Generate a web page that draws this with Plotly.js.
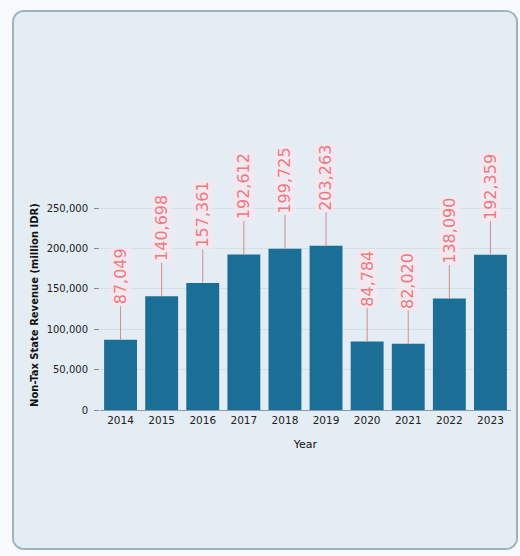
<!DOCTYPE html>
<html>
<head>
<meta charset="utf-8">
<script src="https://cdn.plot.ly/plotly-3.0.1.min.js"></script>
<style>
  html, body { margin: 0; padding: 0; background: #f7f9fc; }
  #box {
    position: absolute; left: 12px; top: 10px; width: 502px; height: 536px;
    border: 2px solid #9fb3bf; border-radius: 12px; background: #e4ecf4;
    overflow: hidden;
  }
  #chart { position: absolute; left: 0; top: 0; width: 502px; height: 536px; }
</style>
</head>
<body>
<div id="box"><div id="chart"></div></div>
<script>
const years = ["2014", "2015", "2016", "2017", "2018", "2019", "2020", "2021", "2022", "2023"];
const revenue = [87049, 140698, 157361, 192612, 199725, 203263, 84784, 82020, 138090, 192359];
const yTitle = "Non-Tax State Revenue (million IDR)";
const xTitle = "Year";

const fmt = v => v.toLocaleString("en-US");

const labelSize = 16;
const lineLen = 33;
// approximate rotated label length so the connector line has a constant length
const labelLen = s => s.replace(/,/g, "").length * labelSize * 0.636 + (s.includes(",") ? labelSize * 0.318 : 0);

// category axis: annotation x given as category index
const annotations = years.map((yr, i) => {
  const t = fmt(revenue[i]);
  return {
    x: i, y: revenue[i], xref: "x", yref: "y",
    text: t,
    textangle: -90,
    showarrow: true, arrowhead: 0, arrowwidth: 1, arrowcolor: "#d98a90",
    ax: 0, ay: -(lineLen + labelLen(t) / 2 + 2),
    font: { family: "DejaVu Sans", size: labelSize, color: "#f07880" },
    bgcolor: "rgba(250,232,236,0.55)"
  };
});

const trace = {
  type: "bar", x: years, y: revenue,
  marker: { color: "#1b6e96" },
  hoverinfo: "x+y"
};

const layout = {
  width: 502, height: 536,
  paper_bgcolor: "#e4ecf4", plot_bgcolor: "#e4ecf4",
  margin: { l: 86, r: 5, t: 188, b: 138 },
  bargap: 0.2,
  showlegend: false,
  font: { family: "DejaVu Sans", size: 10, color: "#222" },
  xaxis: {
    type: "category",
    range: [-0.5, years.length - 0.5],
    title: { text: xTitle, font: { size: 11, color: "#111" }, standoff: 15 },
    showline: true, linecolor: "#8a9aa6", linewidth: 1,
    ticks: "", tickfont: { size: 10.5, color: "#222" }
  },
  yaxis: {
    range: [0, 260000],
    title: { text: "<b>" + yTitle + "</b>", font: { size: 10, color: "#111" }, standoff: 6 },
    tickvals: [0, 50000, 100000, 150000, 200000, 250000],
    tickformat: ",d",
    ticks: "outside", ticklen: 5, tickcolor: "#888", ticklabelstandoff: 4,
    gridcolor: "#d6dee6", zeroline: false,
    tickfont: { size: 10, color: "#222" }
  },
  annotations: annotations
};

Plotly.newPlot("chart", [trace], layout, { displayModeBar: false, staticPlot: true });
</script>
</body>
</html>
